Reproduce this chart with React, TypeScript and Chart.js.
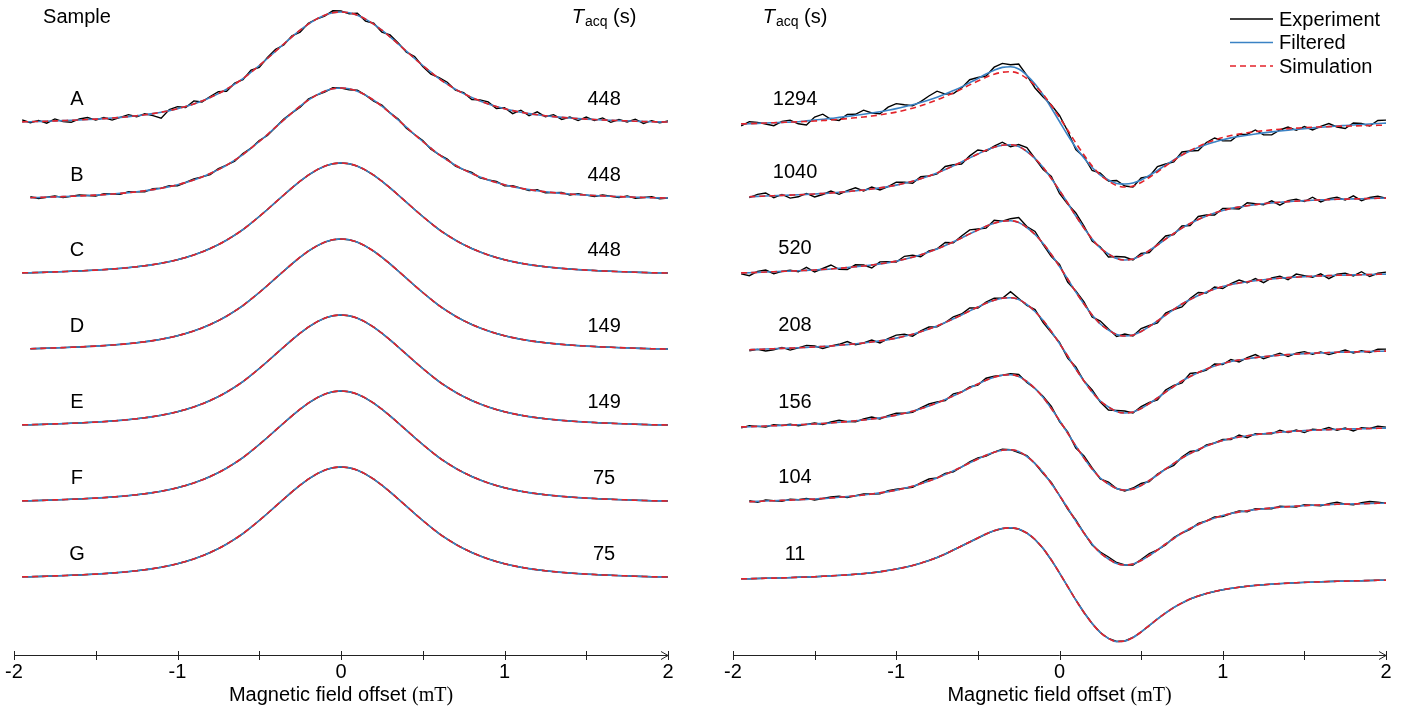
import React, { useEffect, useRef } from "react";
import { Chart, registerables } from "chart.js";

Chart.register(...registerables);

// ---------------- DATA ----------------
const X_GRID = [
  -2.0, -1.95, -1.9, -1.85, -1.8, -1.75, -1.7, -1.65, -1.6, -1.55,
  -1.5, -1.45, -1.4, -1.35, -1.3, -1.25, -1.2, -1.15, -1.1, -1.05,
  -1.0, -0.95, -0.9, -0.85, -0.8, -0.75, -0.7, -0.65, -0.6, -0.55,
  -0.5, -0.45, -0.4, -0.35, -0.3, -0.25, -0.2, -0.15, -0.1, -0.05,
  0.0, 0.05, 0.1, 0.15, 0.2, 0.25, 0.3, 0.35, 0.4, 0.45,
  0.5, 0.55, 0.6, 0.65, 0.7, 0.75, 0.8, 0.85, 0.9, 0.95,
  1.0, 1.05, 1.1, 1.15, 1.2, 1.25, 1.3, 1.35, 1.4, 1.45,
  1.5, 1.55, 1.6, 1.65, 1.7, 1.75, 1.8, 1.85, 1.9, 1.95,
  2.0,
];

// absorption line (left panel), arbitrary intensity units
const LEFT_SHAPE = [
  0, 0.12, 0.3, 0.55, 0.8, 1.1, 1.4, 1.7, 2.05, 2.45,
  2.9, 3.4, 3.95, 4.6, 5.35, 6.2, 7.2, 8.4, 9.8, 11.4,
  13.3, 15.5, 18.1, 21.1, 24.5, 28.4, 32.8, 37.8, 43.4, 49.8,
  56.5, 63.5, 70.8, 78.0, 85.1, 91.8, 97.8, 102.9, 106.8, 109.2,
  110,
  109.2, 106.8, 102.9, 97.8, 91.8, 85.1, 78.0, 70.8, 63.5, 56.5,
  49.8, 43.4, 37.8, 32.8, 28.4, 24.5, 21.1, 18.1, 15.5, 13.3,
  11.4, 9.8, 8.4, 7.2, 6.2, 5.35, 4.6, 3.95, 3.4, 2.9,
  2.45, 2.05, 1.7, 1.4, 1.1, 0.8, 0.55, 0.3, 0.12, 0,
];

// derivative line (right panel, traces 1294 ... 104)
const RIGHT_SHAPE = [
  0, 0.1, 0.3, 0.6, 1.0, 1.3, 1.6, 1.9, 2.2, 2.6,
  3.0, 3.5, 4.0, 4.7, 5.4, 6.2, 7.0, 8.0, 9.1, 10.4,
  11.9, 13.7, 15.8, 18.2, 21.0, 24.1, 27.5, 31.2, 35.0, 39.1,
  43.0, 46.8, 49.8, 51.8, 52.3, 50.5, 45.5, 38.5, 29.5, 18.5,
  6.5,
  -6, -19, -31, -42, -51, -57, -61.5, -63, -62, -58.5,
  -53.5, -48, -42, -36.5, -31, -26.5, -22.5, -19, -16, -13.5,
  -11.5, -10, -8.7, -7.6, -6.7, -5.9, -5.2, -4.6, -4.1, -3.6,
  -3.2, -2.9, -2.6, -2.3, -2.1, -1.9, -1.7, -1.5, -1.3, -1.1,
];

// derivative line of the 11 s trace
const RIGHT_SHAPE_11 = [
  0, 0.1, 0.3, 0.5, 0.7, 0.9, 1.1, 1.4, 1.7, 2.0,
  2.3, 2.7, 3.1, 3.6, 4.1, 4.7, 5.4, 6.2, 7.2, 8.6,
  10.0, 11.6, 13.5, 15.8, 18.5, 21.5, 25.0, 29.0, 33.0, 37.0,
  41.0, 45.0, 48.3, 50.5, 51.2, 50.0, 46.0, 39.5, 30.5, 19.0,
  6.0,
  -7.5, -21, -33.5, -44.5, -53.5, -59.5, -62.5, -62, -58.5, -53,
  -46.5, -40, -34, -28.5, -24, -20, -17, -14.5, -12.5, -10.8,
  -9.4, -8.2, -7.2, -6.4, -5.7, -5.1, -4.6, -4.1, -3.7, -3.4,
  -3.1, -2.8, -2.5, -2.3, -2.1, -1.9, -1.7, -1.5, -1.3, -1.2,
];

// filtered-minus-simulation difference of the 1294 s trace
const FILT_DEV_1294 = [
  0, 0, 0, 0, 0, 0, 0, 0, 0, 0.5,
  1, 1.3, 1.6, 1.9, 2.2, 2.5, 2.8, 3, 3.2, 3.4,
  3.5, 3.5, 3.4, 3.2, 3, 2.7, 2.4, 2.2, 2.1, 2.2,
  2.5, 3.2, 4, 4.8, 5, 4.5, 3.2, 1.5, -0.5, -2.5,
  -4,
  -5, -4.5, -3, -1.5, 0, 1, 2, 3, 3, 2.5,
  2, 1.5, 1, 0.5, 0, -0.5, -1, -1.5, -2, -2.2,
  -2.4, -2.5, -2.5, -2.4, -2.2, -2, -1.8, -1.5, -1.2, -1,
  -0.7, -0.4, 0, 0.3, 0.6, 0.9, 1.2, 1.5, 1.8, 2,
];

// experiment-minus-filtered residuals (noise)
const NOISE_A = [
  0, 2, -1, 1, -2, 2, -1, -2, 1, 2,
  -1, 1, -2, 0, 2, -1, 1, -2, -6, 1,
  2, -1, 3, -1, 1, 2, -2, 1, -1, 2,
  -2, 1, 2, -1, 1, -2, 1, 0, -1, 2,
  1, -1, 2, -2, 1, -2, 2, 1, -1, 2,
  -1, -2, 1, 2, -1, 1, -2, 1, 2, -2,
  1, -3, 2, -2, 3, -1, 2, -2, 1, -2,
  2, -1, 2, -2, 1, -1, 2, -2, 1, -1,
  1,
];
const NOISE_B = [
  0, 0, 1, -1, 0, 1, -1, 0, 1, 0,
  -1, 1, 0, -1, 1, 0, -1, 1, 0, 1,
  -1, 0, 1, 0, -1, 1, 0, -1, 1, 0,
  1, -1, 0, 1, 0, -1, 1, 0, -1, 1,
  0, -1, 1, 0, -1, 1, 0, 1, -1, 0,
  1, -1, 0, 1, -1, 0, 1, -1, 0, 1,
  -1, 1, 0, -1, 1, -1, 0, 1, -1, 1,
  0, -1, 1, 0, -1, 1, -1, 0, 1, -1,
  0,
];
const NOISE_1294 = [
  0, -2, 2, 1, -1, -3, 1, 2, -2, -4,
  3, 5, -1, -3, 2, 1, 4, 0, -2, 3,
  5, 2, -1, 1, 4, 6, 0, -3, -1, 3,
  1, -2, 3, 4, 2, 5, 0, -4, -2, 3,
  6, 4, -2, 1, -3, 2, -1, 3, -2, -4,
  2, -1, 4, 1, -2, 3, 0, -3, 2, 4,
  -1, -3, 2, 1, 4, -2, -3, 1, 3, -1,
  2, -2, 1, 3, -1, -3, 2, 1, -2, 3,
  3,
];
const NOISE_1040 = [
  0, 1, -1, 2, 3, -2, 1, -3, -2, 1,
  -3, -1, 2, -2, 1, 3, -1, 2, -2, 0,
  3, 1, -2, 2, 0, -1, 3, 1, -2, 2,
  4, -1, 1, 3, -2, 2, 4, 0, -2, 2,
  -3, -1, 3, 2, -2, 1, -3, 2, 3, -1,
  2, -2, 1, 3, -1, 2, -2, 3, 1, -2,
  2, 0, -2, 3, 1, -1, 2, -3, 1, 2,
  -1, 3, -2, 1, 2, -1, 3, -2, 1, 2,
  0,
];
const NOISE_520 = [
  2, -1, -3, 1, 2, -2, 0, 1, -1, 3,
  -2, 1, 4, -1, -2, 2, 1, -3, 2, 1,
  -1, 3, 2, -2, 1, 0, 3, -1, 2, 4,
  1, -2, 3, 0, 2, 5, 1, 3, -1, -2,
  2, -3, 1, 2, -2, 3, 1, -2, 2, -1,
  3, 1, -2, 2, 0, -3, 1, 3, -1, 2,
  -2, 1, 3, -1, 2, -3, 1, 2, -2, 3,
  1, -1, 2, -3, 1, 2, -1, 3, -2, 1,
  2,
];
const NOISE_208 = [
  2, 1, -1, 0, -2, -1, 1, -2, 0, 2,
  1, -2, 0, 1, 3, -1, 0, 2, -2, 1,
  3, 2, -2, 1, 2, -1, 0, 2, 1, 3,
  -1, 1, 2, 0, 6, 1, -1, 2, -2, -1,
  1, -2, 2, 0, 2, -1, -3, 1, 2, -1,
  2, 1, -2, 2, 1, -2, 3, 0, -1, 2,
  -1, 2, -2, 1, 3, -2, 0, 2, -2, 1,
  2, -1, 1, -2, 0, 2, -1, 1, -1, 2,
  2,
];
const NOISE_156 = [
  0, -1, 1, 0, -1, 1, 0, 1, -1, 0,
  1, -1, 1, 2, 0, -1, 1, 2, -1, 1,
  2, 0, -1, 1, 2, 1, -1, 2, 0, 1,
  -1, 2, 1, 0, 1, 2, -1, 0, 1, 2,
  -1, 1, -2, 2, 1, -1, 2, 0, -1, 1,
  2, -1, 1, 0, -2, 1, 2, -1, 1, 0,
  1, -1, 2, -2, 1, 0, -1, 2, -1, 1,
  -2, 1, 0, 2, -1, 1, -2, 1, 0, 2,
  1,
];
const NOISE_104 = [
  0, 0, 1, -1, 1, 0, -1, 1, 0, 1,
  -1, 0, 1, 1, -1, 0, 1, 0, -1, 1,
  1, 0, -1, 1, 2, 0, 1, -1, 0, 1,
  1, -1, 0, 1, 0, -1, 1, 0, -1, 1,
  0, -1, 1, 0, -1, 1, 2, 1, 0, -1,
  1, 2, 0, -1, 1, 0, -1, 1, 0, 1,
  -1, 0, 1, -1, 1, 0, -1, 1, 0, -1,
  1, 0, -1, 1, 2, 0, -1, 1, 2, 1,
  0,
];

const SAMPLES = ["A", "B", "C", "D", "E", "F", "G"];
const LEFT_TACQ = ["448", "448", "448", "149", "149", "75", "75"];
const RIGHT_TACQ = ["1294", "1040", "520", "208", "156", "104", "11"];
const LEFT_OFFSETS = [455, 379, 304, 228, 152, 76, 0];
const RIGHT_OFFSETS = [455, 382, 306, 229, 152, 77, 0];
const LEFT_START = [-1.95, -1.9, -1.95, -1.9, -1.95, -1.95, -1.95];
const RIGHT_START = [-1.95, -1.9, -1.95, -1.9, -1.95, -1.9, -1.95];
const LEFT_NOISE = [NOISE_A, NOISE_B, null, null, null, null, null];
const RIGHT_NOISE = [NOISE_1294, NOISE_1040, NOISE_520, NOISE_208, NOISE_156, NOISE_104, null];
const RIGHT_FILT_DEV = [FILT_DEV_1294, null, null, null, null, null, null];
const RIGHT_SHAPES = [RIGHT_SHAPE, RIGHT_SHAPE, RIGHT_SHAPE, RIGHT_SHAPE, RIGHT_SHAPE, RIGHT_SHAPE, RIGHT_SHAPE_11];

const X_TICKS = [-2, -1.5, -1, -0.5, 0, 0.5, 1, 1.5, 2];
const X_TICK_LABELS = ["-2", "", "-1", "", "0", "", "1", "", "2"];
const LEGEND_LABELS = ["Experiment", "Filtered", "Simulation"];

// ---------------- STYLE ----------------
const C_EXP = "#000000";
const C_FILT = "#3a82c4";
const C_SIM = "#e3232a";
const SANS = "'Liberation Sans', Arial, sans-serif";
const SERIF = "'Liberation Serif', 'Times New Roman', serif";

type Pt = { x: number; y: number };

function buildTrace(
  offset: number,
  shape: number[],
  dev: number[] | null,
  noise: number[] | null,
  startX: number
): Pt[] {
  const pts: Pt[] = [];
  for (let i = 0; i < X_GRID.length; i++) {
    if (X_GRID[i] < startX - 1e-9) continue;
    const d = dev ? dev[i] ?? 0 : 0;
    const n = noise ? noise[i] ?? 0 : 0;
    pts.push({ x: X_GRID[i], y: offset + shape[i] + d + n });
  }
  return pts;
}

function makeDatasets(
  offsets: number[],
  shapes: number[][],
  devs: (number[] | null)[],
  noises: (number[] | null)[],
  starts: number[]
) {
  const ds: any[] = [];
  offsets.forEach((off, k) => {
    ds.push({
      label: "Experiment",
      data: buildTrace(off, shapes[k], devs[k], noises[k], starts[k]),
      borderColor: C_EXP,
      borderWidth: 1.4,
      pointRadius: 0,
      tension: 0,
      fill: false,
      order: 2,
    });
    ds.push({
      label: "Filtered",
      data: buildTrace(off, shapes[k], devs[k], null, starts[k]),
      borderColor: C_FILT,
      borderWidth: 1.6,
      pointRadius: 0,
      cubicInterpolationMode: "monotone",
      fill: false,
      order: 1,
    });
    ds.push({
      label: "Simulation",
      data: buildTrace(off, shapes[k], null, null, starts[k]),
      borderColor: C_SIM,
      borderWidth: 1.6,
      borderDash: [6, 4],
      pointRadius: 0,
      cubicInterpolationMode: "monotone",
      fill: false,
      order: 0,
    });
  });
  return ds;
}

function drawTacqHeader(ctx: CanvasRenderingContext2D, cx: number, baseY: number) {
  ctx.save();
  ctx.fillStyle = "#000";
  ctx.textBaseline = "alphabetic";
  ctx.textAlign = "left";
  const fT = `italic 20px ${SANS}`;
  const fSub = `14px ${SANS}`;
  const fMain = `20px ${SANS}`;
  ctx.font = fT;
  const wT = ctx.measureText("T").width;
  ctx.font = fSub;
  const wSub = ctx.measureText("acq").width;
  ctx.font = fMain;
  const wRest = ctx.measureText(" (s)").width;
  const total = wT + 1 + wSub + wRest;
  let x = cx - total / 2;
  ctx.font = fT;
  ctx.fillText("T", x, baseY);
  x += wT + 1;
  ctx.font = fSub;
  ctx.fillText("acq", x, baseY + 3);
  x += wSub;
  ctx.font = fMain;
  ctx.fillText(" (s)", x, baseY);
  ctx.restore();
}

function makeOverlay(side: "left" | "right") {
  return {
    id: "overlay_" + side,
    afterDraw(chart: any) {
      const ctx: CanvasRenderingContext2D = chart.ctx;
      const xs = chart.scales.x;
      const ys = chart.scales.y;
      const area = chart.chartArea;
      const axisY = area.bottom;
      ctx.save();
      // axis line
      ctx.strokeStyle = "#222";
      ctx.lineWidth = 1;
      const x0 = xs.getPixelForValue(-2);
      const x1 = xs.getPixelForValue(2);
      ctx.beginPath();
      ctx.moveTo(x0, axisY + 0.5);
      ctx.lineTo(x1, axisY + 0.5);
      ctx.stroke();
      // ticks crossing the axis
      X_TICKS.forEach((t) => {
        const px = Math.round(xs.getPixelForValue(t)) + 0.5;
        ctx.beginPath();
        ctx.moveTo(px, axisY - 4);
        ctx.lineTo(px, axisY + 5);
        ctx.stroke();
      });
      // arrow head
      ctx.beginPath();
      ctx.moveTo(x1 - 7, axisY - 3.5);
      ctx.lineTo(x1, axisY + 0.5);
      ctx.lineTo(x1 - 7, axisY + 4.5);
      ctx.stroke();
      // tick labels
      ctx.fillStyle = "#000";
      ctx.font = `20px ${SANS}`;
      ctx.textAlign = "center";
      ctx.textBaseline = "alphabetic";
      X_TICKS.forEach((t, i) => {
        if (!X_TICK_LABELS[i]) return;
        ctx.fillText(X_TICK_LABELS[i], xs.getPixelForValue(t), axisY + 23);
      });
      // axis title
      const part1 = "Magnetic field offset ";
      const part2 = "(mT)";
      ctx.font = `20px ${SANS}`;
      const w1 = ctx.measureText(part1).width;
      ctx.font = `20px ${SERIF}`;
      const w2 = ctx.measureText(part2).width;
      const cx = xs.getPixelForValue(0);
      const tx = cx - (w1 + w2) / 2;
      ctx.textAlign = "left";
      ctx.font = `20px ${SANS}`;
      ctx.fillText(part1, tx, axisY + 46);
      ctx.font = `20px ${SERIF}`;
      ctx.fillText(part2, tx + w1, axisY + 46);

      // labels
      ctx.font = `20px ${SANS}`;
      ctx.textAlign = "center";
      if (side === "left") {
        ctx.fillText("Sample", xs.getPixelForValue(-1.615), area.top + 23);
        drawTacqHeader(ctx, xs.getPixelForValue(1.609), area.top + 23);
        ctx.font = `20px ${SANS}`;
        ctx.textAlign = "center";
        LEFT_OFFSETS.forEach((off, k) => {
          const py = ys.getPixelForValue(off + 17);
          ctx.fillText(SAMPLES[k], xs.getPixelForValue(-1.615), py);
          ctx.fillText(LEFT_TACQ[k], xs.getPixelForValue(1.609), py);
        });
      } else {
        drawTacqHeader(ctx, xs.getPixelForValue(-1.62), area.top + 23);
        ctx.font = `20px ${SANS}`;
        ctx.textAlign = "center";
        RIGHT_OFFSETS.forEach((off, k) => {
          const py = ys.getPixelForValue(off + 19.5);
          ctx.fillText(RIGHT_TACQ[k], xs.getPixelForValue(-1.62), py);
        });
        // legend
        const lx0 = area.right - 156;
        const lx1 = area.right - 113;
        const tx0 = area.right - 107;
        const rows = [19, 42.5, 66];
        const colors = [C_EXP, C_FILT, C_SIM];
        rows.forEach((ry, i) => {
          ctx.save();
          ctx.strokeStyle = colors[i];
          ctx.lineWidth = 1.6;
          if (i === 2) ctx.setLineDash([6, 4]);
          ctx.beginPath();
          ctx.moveTo(lx0, area.top + ry);
          ctx.lineTo(lx1, area.top + ry);
          ctx.stroke();
          ctx.restore();
          ctx.fillStyle = "#000";
          ctx.font = `20px ${SANS}`;
          ctx.textAlign = "left";
          ctx.textBaseline = "alphabetic";
          ctx.fillText(LEGEND_LABELS[i], tx0, area.top + ry + 6.5);
        });
      }
      ctx.restore();
    },
  };
}

function SpectraChart(props: {
  side: "left" | "right";
  width: number;
  height: number;
  left: number;
}) {
  const ref = useRef<HTMLCanvasElement | null>(null);
  useEffect(() => {
    if (!ref.current) return;
    const isLeft = props.side === "left";
    const datasets = isLeft
      ? makeDatasets(
          LEFT_OFFSETS,
          LEFT_OFFSETS.map(() => LEFT_SHAPE),
          LEFT_OFFSETS.map(() => null),
          LEFT_NOISE,
          LEFT_START
        )
      : makeDatasets(RIGHT_OFFSETS, RIGHT_SHAPES, RIGHT_FILT_DEV, RIGHT_NOISE, RIGHT_START);
    const chart = new Chart(ref.current, {
      type: "line",
      data: { datasets },
      options: {
        animation: false,
        responsive: false,
        devicePixelRatio: 1,
        layout: {
          padding: isLeft
            ? { left: 14, right: 32, top: 0, bottom: 56 }
            : { left: 33, right: 25, top: 0, bottom: 56 },
        },
        plugins: {
          legend: { display: false },
          tooltip: { enabled: false },
          title: { display: false },
        },
        scales: {
          x: { type: "linear", min: -2, max: 2, display: false },
          y: isLeft
            ? { type: "linear", min: -78, max: 577, display: false }
            : { type: "linear", min: -76, max: 579, display: false },
        },
      },
      plugins: [makeOverlay(props.side)],
    });
    return () => chart.destroy();
  }, []);
  return (
    <canvas
      ref={ref}
      width={props.width}
      height={props.height}
      style={{
        position: "absolute",
        left: props.left,
        top: 0,
        width: props.width,
        height: props.height,
      }}
    />
  );
}

export default function App() {
  return (
    <div
      style={{
        position: "absolute",
        left: 0,
        top: 0,
        width: 1411,
        height: 711,
        background: "#ffffff",
        overflow: "hidden",
      }}
    >
      <SpectraChart side="left" width={700} height={711} left={0} />
      <SpectraChart side="right" width={711} height={711} left={700} />
    </div>
  );
}
